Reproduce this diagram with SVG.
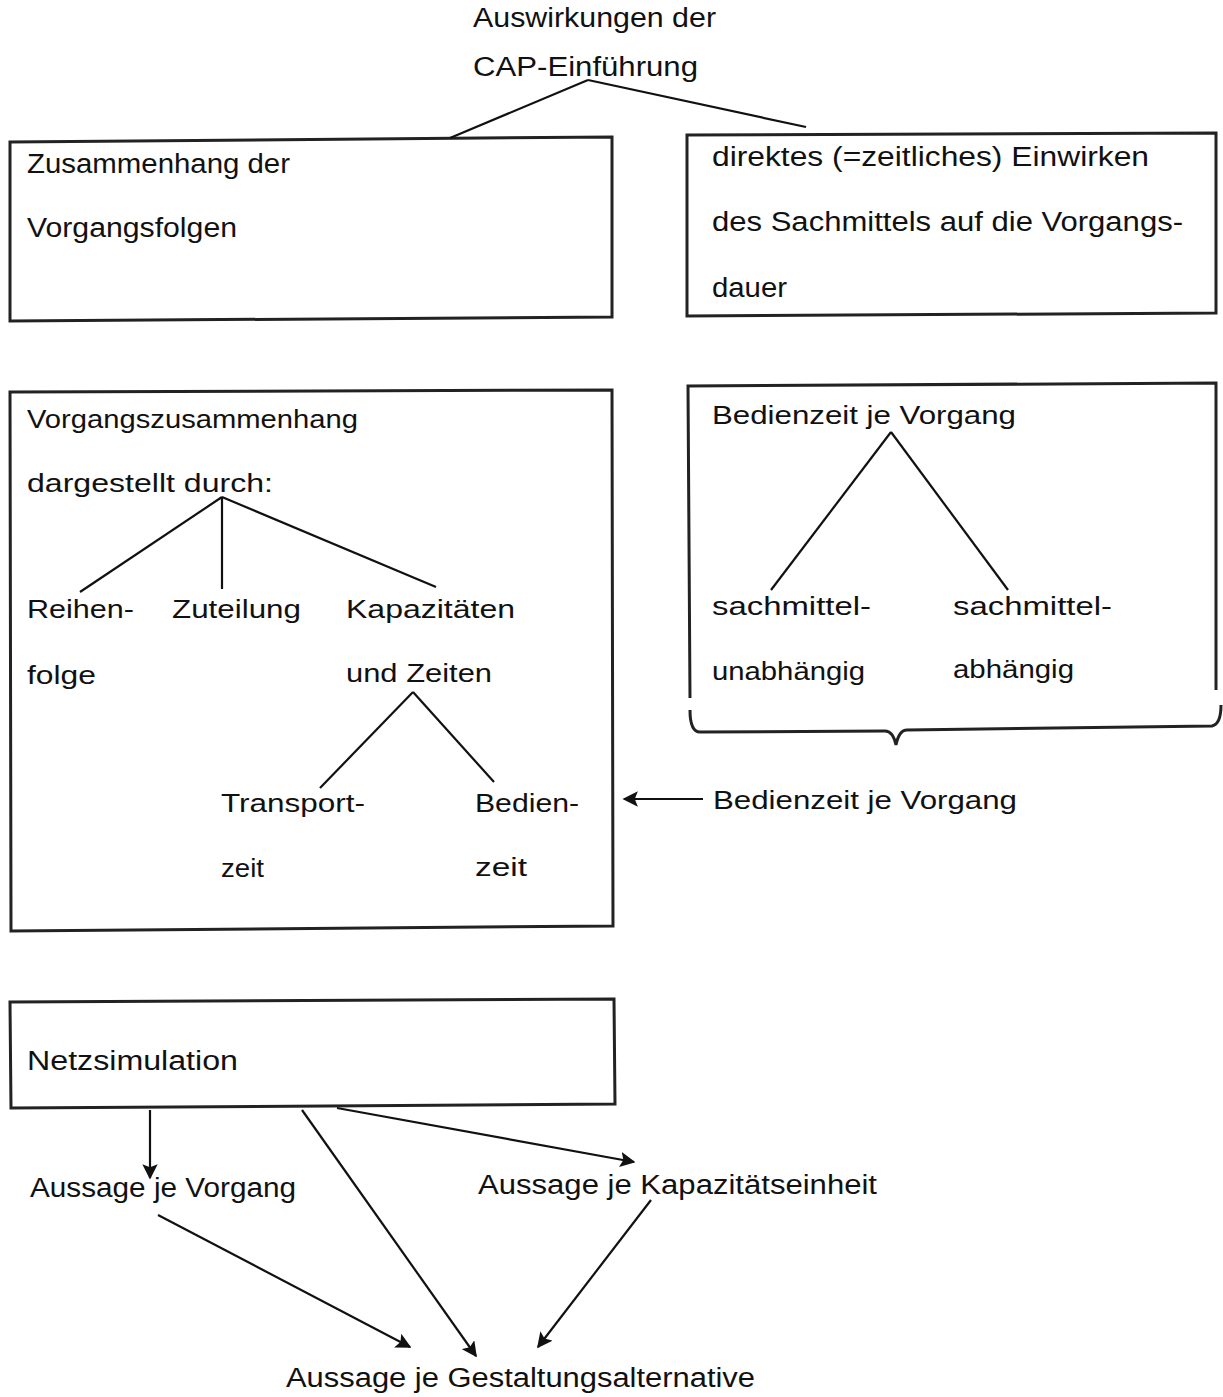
<svg xmlns="http://www.w3.org/2000/svg" width="1223" height="1397" viewBox="0 0 1223 1397">
<style>
.box{fill:none;stroke:#222;stroke-width:3}
.ln{fill:none;stroke:#111;stroke-width:2.2}
.t{font-family:"Liberation Sans",Arial,sans-serif;font-size:25px;fill:#111}
.c{font-family:"Liberation Sans Narrow","Liberation Sans",Arial,sans-serif;font-size:27px;fill:#111}
</style>
<defs>
<marker id="ah" viewBox="0 0 10 10" refX="9" refY="5" markerWidth="7" markerHeight="7" orient="auto" markerUnits="strokeWidth">
<path d="M0,0 L10,5 L0,10 L2,5 z" fill="#111"/>
</marker>
</defs>

<g id="root">
<text class="c" x="473" y="27" textLength="243" lengthAdjust="spacingAndGlyphs">Auswirkungen der</text>
<text class="c" x="473" y="76" textLength="225" lengthAdjust="spacingAndGlyphs">CAP-Einführung</text>
</g>

<g id="box-zusammenhang">
<path class="box" d="M10,142 L612,137 L612,317 L10,321 Z"/>
<text class="c" x="27" y="173" textLength="263" lengthAdjust="spacingAndGlyphs">Zusammenhang der</text>
<text class="c" x="27" y="237" textLength="210" lengthAdjust="spacingAndGlyphs">Vorgangsfolgen</text>
</g>

<g id="box-direktes">
<path class="box" d="M687,135 L1216,133 L1216,313 L687,316 Z"/>
<text class="c" x="712" y="166" textLength="437" lengthAdjust="spacingAndGlyphs">direktes (=zeitliches) Einwirken</text>
<text class="c" x="712" y="231" textLength="471" lengthAdjust="spacingAndGlyphs">des Sachmittels auf die Vorgangs-</text>
<text class="c" x="712" y="297" textLength="75" lengthAdjust="spacingAndGlyphs">dauer</text>
</g>

<g id="box-vorgangszusammenhang">
<path class="box" d="M10,392 L612,390 L613,926 L11,931 Z"/>
<text class="t" x="27" y="428" textLength="331" lengthAdjust="spacingAndGlyphs">Vorgangszusammenhang</text>
<text class="t" x="27" y="492" textLength="246" lengthAdjust="spacingAndGlyphs">dargestellt durch:</text>
<text class="t" x="27" y="618" textLength="107" lengthAdjust="spacingAndGlyphs">Reihen-</text>
<text class="t" x="27" y="684" textLength="69" lengthAdjust="spacingAndGlyphs">folge</text>
<text class="t" x="172" y="618" textLength="129" lengthAdjust="spacingAndGlyphs">Zuteilung</text>
<text class="t" x="346" y="618" textLength="169" lengthAdjust="spacingAndGlyphs">Kapazitäten</text>
<text class="t" x="346" y="682" textLength="146" lengthAdjust="spacingAndGlyphs">und Zeiten</text>
<text class="t" x="221" y="812" textLength="144" lengthAdjust="spacingAndGlyphs">Transport-</text>
<text class="t" x="221" y="877" textLength="43" lengthAdjust="spacingAndGlyphs">zeit</text>
<text class="t" x="475" y="812" textLength="104" lengthAdjust="spacingAndGlyphs">Bedien-</text>
<text class="t" x="475" y="876" textLength="52" lengthAdjust="spacingAndGlyphs">zeit</text>
</g>

<g id="box-bedienzeit">
<path class="box" d="M690,698 L688,386 L1216,383 L1216,690"/>
<path class="box" d="M690,710 Q690,732 700,732 L885,731 Q893,731 896,745 Q899,730 907,730 L1212,726 Q1221,724 1221,705" stroke-width="2.5"/>
<text class="t" x="712" y="424" textLength="304" lengthAdjust="spacingAndGlyphs">Bedienzeit je Vorgang</text>
<text class="t" x="712" y="615" textLength="159" lengthAdjust="spacingAndGlyphs">sachmittel-</text>
<text class="t" x="712" y="680" textLength="153" lengthAdjust="spacingAndGlyphs">unabhängig</text>
<text class="t" x="953" y="615" textLength="159" lengthAdjust="spacingAndGlyphs">sachmittel-</text>
<text class="t" x="953" y="678" textLength="121" lengthAdjust="spacingAndGlyphs">abhängig</text>
</g>

<g id="label-bedienzeit">
<text class="t" x="713" y="809" textLength="304" lengthAdjust="spacingAndGlyphs">Bedienzeit je Vorgang</text>
</g>

<g id="box-netzsimulation">
<path class="box" d="M10,1002 L614,999 L615,1104 L11,1108 Z"/>
<text class="c" x="27" y="1070" textLength="211" lengthAdjust="spacingAndGlyphs">Netzsimulation</text>
</g>

<g id="aussage-vorgang">
<text class="c" x="30" y="1197" textLength="266" lengthAdjust="spacingAndGlyphs">Aussage je Vorgang</text>
</g>
<g id="aussage-kapazitaet">
<text class="c" x="478" y="1194" textLength="399" lengthAdjust="spacingAndGlyphs">Aussage je Kapazitätseinheit</text>
</g>
<g id="aussage-gestaltung">
<text class="c" x="286" y="1387" textLength="469" lengthAdjust="spacingAndGlyphs">Aussage je Gestaltungsalternative</text>
</g>

<g id="connectors">
<line class="ln" x1="588" y1="80" x2="450" y2="138"/>
<line class="ln" x1="588" y1="80" x2="806" y2="127"/>
<line class="ln" x1="222" y1="497" x2="80" y2="592"/>
<line class="ln" x1="222" y1="497" x2="222" y2="589"/>
<line class="ln" x1="222" y1="497" x2="436" y2="587"/>
<line class="ln" x1="413" y1="692" x2="320" y2="788"/>
<line class="ln" x1="413" y1="692" x2="494" y2="782"/>
<line class="ln" x1="891" y1="432" x2="771" y2="590"/>
<line class="ln" x1="891" y1="432" x2="1008" y2="590"/>
<line class="ln" x1="703" y1="799" x2="624" y2="799" marker-end="url(#ah)"/>
<line class="ln" x1="150" y1="1110" x2="150" y2="1178" marker-end="url(#ah)"/>
<line class="ln" x1="337" y1="1108" x2="634" y2="1162" marker-end="url(#ah)"/>
<line class="ln" x1="302" y1="1110" x2="476" y2="1356" marker-end="url(#ah)"/>
<line class="ln" x1="158" y1="1215" x2="410" y2="1347" marker-end="url(#ah)"/>
<line class="ln" x1="651" y1="1200" x2="538" y2="1347" marker-end="url(#ah)"/>
</g>
</svg>
